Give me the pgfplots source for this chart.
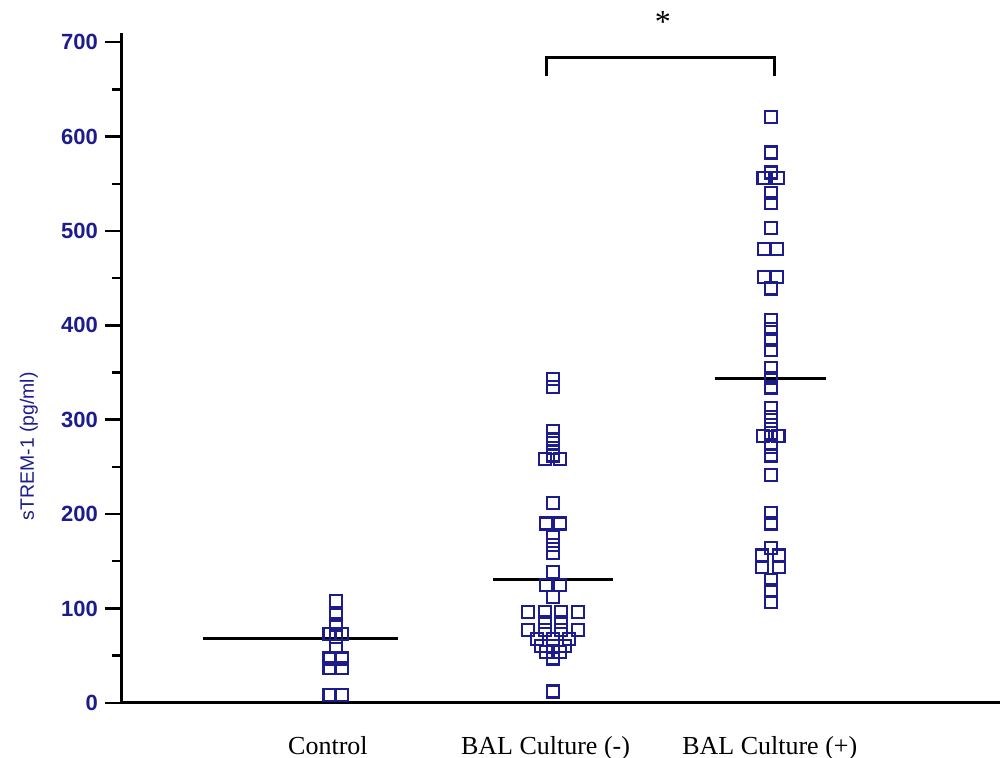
\documentclass[border=0pt]{standalone}
\usepackage{fontspec}
\setmainfont{Liberation Serif}
\setsansfont{Liberation Sans}
\usepackage{pgfplots}
\pgfplotsset{compat=1.18}
\definecolor{navy}{RGB}{28,28,140}
\begin{document}
\begin{tikzpicture}
\begin{axis}[
 scale only axis, width=439pt, height=335pt,
 xmin=0.072, xmax=4.027, ymin=0, ymax=710,
 axis x line=bottom, axis y line=left,
 axis line style={-, line width=1.5pt, black},
 xtick={1,1.98,2.99}, xticklabels={Control, BAL Culture (-), BAL Culture (+)},
 xtick style={draw=none},
 xticklabel style={font=\fontsize{13}{15}\selectfont, yshift=-5pt},
 ytick={0,100,...,700},
 minor ytick={50,150,...,650},
 tick align=outside,
 ytick style={line width=1.2pt, black},
 major tick length=8.5pt, minor tick length=5pt,
 yticklabel style={font=\sffamily\bfseries\fontsize{11}{13}\selectfont, text=navy},
 /pgf/number format/assume math mode=true,
 ylabel={sTREM-1 (pg/ml)},
 ylabel style={font=\sffamily\fontsize{9.7}{11}\selectfont, text=navy, at={(axis description cs:-0.106,0.383)}, anchor=center, rotate=0},
 clip=false,
]
\addplot[only marks, mark=square, mark size=3pt, navy, mark options={line width=1.1pt}] coordinates {
(1.036,108)(1.036,93)(1.036,83)(1.007,73)(1.065,73)(1.036,70)(1.036,60)(1.007,47)(1.065,47)(1.007,37)(1.065,37)(1.007,8)(1.065,8)
};
\addplot[only marks, mark=square, mark size=3pt, navy, mark options={line width=1.1pt}] coordinates {
(2.013,343)(2.013,335)(2.013,288)(2.013,279)(2.013,270)(2.013,262)(1.979,258)(2.047,258)
(2.013,212)(1.981,190)(2.045,190)
(2.013,176)(2.013,167)(2.013,159)(2.013,139)
(1.981,125)(2.045,125)(2.013,112)
(1.900,96)(1.977,96)(2.049,96)(2.126,96)
(1.977,86)(2.049,86)
(1.900,77)(1.977,77)(2.049,77)(2.126,77)
(1.941,68)(2.013,68)(2.085,68)
(1.959,60)(2.013,60)(2.067,60)
(1.981,54)(2.045,54)
(2.013,47)
(2.013,12)
};
\addplot[only marks, mark=square, mark size=3pt, navy, mark options={line width=1.1pt}] coordinates {
(2.994,621)(2.994,583)(2.994,562)(2.962,556)(3.026,556)(2.994,540)(2.994,530)(2.994,503)(2.964,481)(3.024,481)(2.964,451)(3.024,451)(2.994,439)
(2.994,406)(2.994,396)(2.994,385)(2.994,374)(2.994,355)(2.994,344)(2.994,334)
(2.994,312)(2.994,303)(2.994,294)(2.994,286)(2.959,283)(3.029,283)(2.994,271)(2.994,262)(2.994,241)
(2.994,201)(2.994,190)(2.994,164)(2.956,156)(3.032,156)(2.956,144)(3.032,144)(2.994,130)(2.994,119)(2.994,107)
};
\addplot[black, line width=1.5pt] coordinates {(0.437,68)(1.315,68)};
\addplot[black, line width=1.5pt] coordinates {(1.743,131)(2.284,131)};
\addplot[black, line width=1.5pt] coordinates {(2.743,344)(3.243,344)};
\addplot[black, line width=1.5pt] coordinates {(1.985,664)(1.985,684)(3.012,684)(3.012,664)};
\node[font=\fontsize{16}{18}\selectfont] at (axis cs:2.509,721) {*};
\coordinate (bl) at (axis cs:-0.477,-58.3);
\coordinate (tr) at (axis cs:4.045,744.7);
\end{axis}
\pgfresetboundingbox
\path[use as bounding box] (bl) rectangle (tr);
\end{tikzpicture}
\end{document}
